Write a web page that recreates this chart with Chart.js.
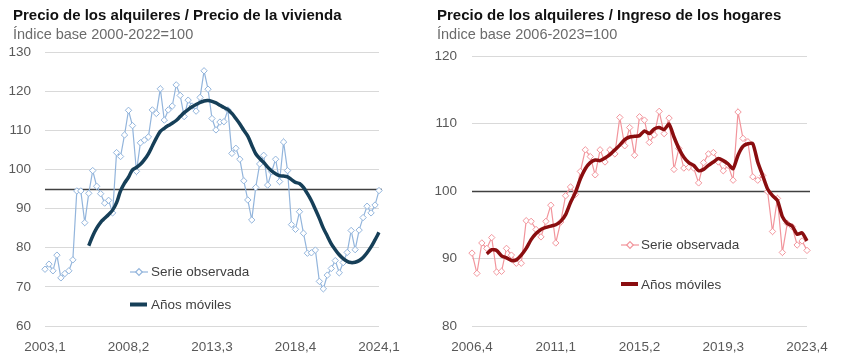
<!DOCTYPE html>
<html>
<head>
<meta charset="utf-8">
<script src="https://cdn.jsdelivr.net/npm/chart.js@4.4.1/dist/chart.umd.min.js"></script>
<style>
    html, body { margin: 0; padding: 0; background: #fff; }
    #wrap { display: flex; width: 848px; height: 358px; }
    .panel { width: 424px; height: 358px; }
</style>
</head>
<body>
<div id="wrap">
    <div class="panel"><canvas id="chart-left" width="424" height="358"></canvas></div>
    <div class="panel"><canvas id="chart-right" width="424" height="358"></canvas></div>
</div>
<script>
// Left panel: rents / house prices, quarterly 2003,1 - 2024,1
const leftXTicks = ['2003,1', '2008,2', '2013,3', '2018,4', '2024,1'];
const leftYTicks = [60, 70, 80, 90, 100, 110, 120, 130];
const leftRef = 95;
const leftObserved = [
    74.5, 75.8, 74.1, 78.1, 72.3, 73.4, 74.1, 76.9, 94.5, 94.5,
    86.4, 93.9, 99.7, 95.7, 93.8, 91.4, 92.1, 88.9, 104.3, 103.3,
    108.8, 115.1, 111.2, 99.5, 106.8, 107.5, 108.3, 115.2, 114.3, 120.6,
    112.6, 115.2, 116.2, 121.6, 118.9, 113.5, 117.7, 116.2, 114.9, 118.4,
    125.2, 120.5, 113.0, 110.1, 112.1, 112.2, 115.2, 104.1, 105.4, 102.6,
    97.1, 92.2, 87.1, 95.4, 101.4, 103.6, 96.0, 99.4, 102.6, 96.9,
    107.0, 99.7, 85.9, 84.7, 89.2, 83.7, 78.6, 78.7, 79.4, 71.4,
    69.5, 73.0, 74.7, 76.7, 73.6, 76.2, 78.8, 84.4, 79.5, 84.5,
    87.7, 90.6, 88.9, 90.9, 94.6
];
const leftMoving = [
    null, null, null, null, null, null, null, null, null, null,
    null, 80.5, 83.0, 85.0, 86.5, 87.5, 88.5, 89.6, 91.5, 94.5,
    96.5, 98.0, 99.9, 100.5, 101.3, 102.5, 104.0, 106.0, 108.0, 109.7,
    110.5, 111.2, 111.8, 112.5, 113.5, 114.5, 115.3, 116.0, 116.6, 117.1,
    117.5, 117.6, 117.4, 117.0, 116.4, 115.8, 115.3, 114.3, 113.0, 111.6,
    110.0, 108.5, 106.2, 104.0, 102.8, 101.8, 100.6, 99.6, 98.9, 98.4,
    98.3, 98.1, 97.4, 96.7, 96.4, 95.4, 93.8, 92.0, 89.8, 87.5,
    85.0, 83.0, 81.0, 79.5, 78.2, 77.2, 76.5, 76.2, 76.3, 76.7,
    77.5, 78.7, 80.2, 82.0, 83.9
];

// Right panel: rents / household income, quarterly 2006,4 - 2023,4
const rightXTicks = ['2006,4', '2011,1', '2015,2', '2019,3', '2023,4'];
const rightYTicks = [80, 90, 100, 110, 120];
const rightRef = 100;
const rightObserved = [
    90.8, 87.8, 92.3, 91.5, 93.1, 88.0, 88.1, 91.5, 90.5, 89.3,
    89.3, 95.6, 95.5, 94.3, 93.2, 95.5, 97.9, 92.3, 95.4, 99.3,
    100.6, 99.5, 102.9, 106.1, 105.1, 102.4, 106.1, 104.3, 106.1, 105.5,
    110.9, 106.7, 109.4, 105.3, 111.0, 110.5, 107.2, 108.3, 111.8, 108.5,
    110.8, 103.2, 106.3, 103.4, 103.5, 103.4, 101.2, 104.2, 105.5, 105.7,
    104.3, 103.0, 103.8, 101.6, 111.7, 107.8, 107.3, 102.1, 101.6, 102.3,
    99.9, 94.0, 98.9, 90.9, 95.2, 94.7, 92.0, 92.6, 91.2
];
const rightMoving = [
    null, null, null, 90.7, 91.3, 91.2, 90.4, 90.1, 89.7, 89.8,
    90.5, 91.5, 92.8, 93.7, 94.3, 94.6, 94.8, 95.0, 95.5, 96.5,
    98.3, 99.8, 101.8, 103.3, 104.2, 104.6, 104.5, 104.9, 105.4, 106.1,
    106.8, 107.6, 108.0, 108.1, 108.2, 108.9, 108.5, 109.2, 109.4, 109.1,
    109.9, 108.0, 106.3, 105.0, 104.2, 103.8, 103.0, 103.2, 103.8, 104.3,
    104.8, 104.5, 104.0, 103.3, 105.3, 106.6, 107.0, 107.0, 104.3, 102.3,
    100.3, 99.3, 98.6, 96.2, 95.2, 94.8, 93.6, 93.8, 92.6
];

const FONT = "'Liberation Sans', Arial, sans-serif";
Chart.defaults.font.family = FONT;
Chart.defaults.font.size = 13;
Chart.defaults.color = '#595959';

function quarterLabels(year, q, count) {
    const labels = [];
    for (let i = 0; i < count; i++) {
        labels.push(year + ',' + q);
        q++;
        if (q > 4) { q = 1; year++; }
    }
    return labels;
}

// Draws the reference line, the titles and the legend
const panelDecor = {
    id: 'panelDecor',
    beforeDatasetsDraw(chart, args, opts) {
        const { ctx, chartArea, scales } = chart;
        const y = Math.round(scales.y.getPixelForValue(opts.refValue)) + 0.5;
        ctx.save();
        ctx.strokeStyle = '#404040';
        ctx.lineWidth = 1.3;
        ctx.beginPath();
        ctx.moveTo(chartArea.left, y);
        ctx.lineTo(chartArea.right + 3, y);
        ctx.stroke();
        ctx.restore();
    },
    afterDraw(chart, args, opts) {
        const ctx = chart.ctx;
        ctx.save();
        ctx.textBaseline = 'alphabetic';
        ctx.fillStyle = '#111111';
        ctx.font = 'bold 15px ' + FONT;
        ctx.fillText(opts.title, 13, 19.5);
        ctx.fillStyle = '#6b6b6b';
        ctx.font = '14.5px ' + FONT;
        ctx.fillText(opts.subtitle, 13, 38.5);

        const lg = opts.legend;
        // observed series entry
        ctx.strokeStyle = opts.obsColor;
        ctx.lineWidth = 1.2;
        ctx.beginPath();
        ctx.moveTo(lg.x1, lg.y1);
        ctx.lineTo(lg.x2, lg.y1);
        ctx.stroke();
        const cx = (lg.x1 + lg.x2) / 2;
        ctx.fillStyle = '#ffffff';
        ctx.beginPath();
        ctx.moveTo(cx, lg.y1 - 3.3);
        ctx.lineTo(cx + 3.3, lg.y1);
        ctx.lineTo(cx, lg.y1 + 3.3);
        ctx.lineTo(cx - 3.3, lg.y1);
        ctx.closePath();
        ctx.fill();
        ctx.stroke();
        // moving average entry
        ctx.strokeStyle = opts.maColor;
        ctx.lineWidth = 4;
        ctx.beginPath();
        ctx.moveTo(lg.x1, lg.y2);
        ctx.lineTo(lg.x2 - 1, lg.y2);
        ctx.stroke();

        ctx.fillStyle = '#404040';
        ctx.font = '13.5px ' + FONT;
        ctx.textBaseline = 'middle';
        ctx.fillText('Serie observada', lg.tx, lg.y1 + 0.5);
        ctx.fillText('Años móviles', lg.tx, lg.y2 + 1);
        ctx.restore();
    }
};

function makeChart(canvasId, cfg) {
    const labels = quarterLabels(cfg.startYear, cfg.startQ, cfg.observed.length);
    return new Chart(document.getElementById(canvasId), {
        type: 'line',
        data: {
            labels: labels,
            datasets: [{
                label: 'Años móviles',
                data: cfg.moving,
                borderColor: cfg.maColor,
                borderWidth: 3.5,
                pointRadius: 0,
                tension: cfg.maTension,
                order: 0
            }, {
                label: 'Serie observada',
                data: cfg.observed,
                borderColor: cfg.obsColor,
                borderWidth: 1.2,
                pointStyle: 'rectRot',
                pointRadius: 3.2,
                pointBorderWidth: 1,
                pointBorderColor: cfg.obsColor,
                pointBackgroundColor: '#ffffff',
                tension: 0,
                order: 1
            }]
        },
        options: {
            responsive: false,
            animation: false,
            layout: {
                padding: { top: cfg.top, right: cfg.right, left: 0, bottom: 0 }
            },
            scales: {
                x: {
                    offset: false,
                    grid: { display: false },
                    border: { display: false },
                    afterFit: function(scale) { scale.height = 32; },
                    ticks: {
                        autoSkip: false,
                        maxRotation: 0,
                        minRotation: 0,
                        padding: 5,
                        color: '#595959',
                        font: { size: 13.5 },
                        callback: function(val) {
                            const lab = this.getLabelForValue(val);
                            return cfg.xTicks.includes(lab) ? lab : '';
                        }
                    }
                },
                y: {
                    min: cfg.yTicks[0],
                    max: cfg.yTicks[cfg.yTicks.length - 1],
                    grid: { color: '#d9d9d9', lineWidth: 1, drawTicks: false },
                    border: { display: false },
                    afterFit: function(scale) { scale.width = cfg.left; },
                    ticks: {
                        stepSize: cfg.yTicks[1] - cfg.yTicks[0],
                        padding: cfg.tickPad,
                        color: '#595959',
                        font: { size: 13.5 }
                    }
                }
            },
            plugins: {
                legend: { display: false },
                tooltip: { enabled: false },
                panelDecor: {
                    refValue: cfg.ref,
                    title: cfg.title,
                    subtitle: cfg.subtitle,
                    obsColor: cfg.obsColor,
                    maColor: cfg.maColor,
                    legend: cfg.legend
                }
            }
        },
        plugins: [panelDecor]
    });
}

makeChart('chart-left', {
    startYear: 2003, startQ: 1,
    observed: leftObserved,
    moving: leftMoving,
    xTicks: leftXTicks,
    yTicks: leftYTicks,
    ref: leftRef,
    title: 'Precio de los alquileres / Precio de la vivienda',
    subtitle: 'Índice base 2000-2022=100',
    obsColor: '#93b5dc',
    maColor: '#163f58',
    maTension: 0.35,
    top: 52, right: 45, left: 45, tickPad: 14,
    legend: { x1: 130, x2: 148, y1: 272, y2: 304.5, tx: 151 }
});

makeChart('chart-right', {
    startYear: 2006, startQ: 4,
    observed: rightObserved,
    moving: rightMoving,
    xTicks: rightXTicks,
    yTicks: rightYTicks,
    ref: rightRef,
    title: 'Precio de los alquileres / Ingreso de los hogares',
    subtitle: 'Índice base 2006-2023=100',
    obsColor: '#f2959c',
    maColor: '#8a0d0f',
    maTension: 0.2,
    top: 56, right: 41, left: 48, tickPad: 15,
    legend: { x1: 197, x2: 215, y1: 245, y2: 284, tx: 217 }
});
</script>
</body>
</html>
